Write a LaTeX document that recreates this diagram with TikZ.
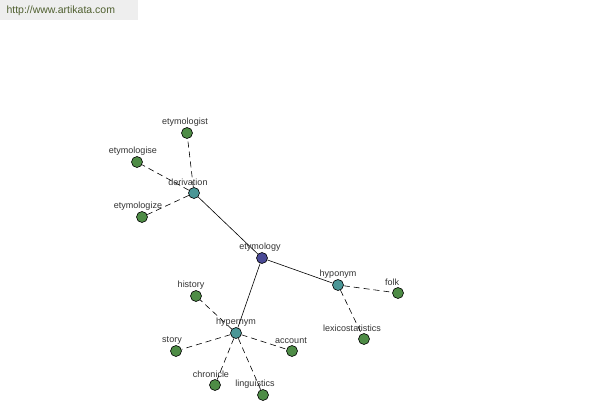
\documentclass[tikz,border=0pt]{standalone}
\usepackage{fontspec}
\setmainfont{Liberation Sans}
\usepackage{xcolor}
\definecolor{ink}{HTML}{333333}
\definecolor{leafgreen}{HTML}{4E8C46}
\definecolor{hubteal}{HTML}{4A9696}
\definecolor{rootblue}{HTML}{4A4A96}
\definecolor{banner}{HTML}{EEEEEE}
\definecolor{urltext}{HTML}{4F5F2F}
\usepackage{tikz}
\usetikzlibrary{positioning}
\tikzset{
  dot/.style={circle, draw=black, line width=0.6pt, minimum size=11pt, inner sep=0pt},
  leaf/.style={dot, fill=leafgreen},
  hub/.style={dot, fill=hubteal},
  root/.style={dot, fill=rootblue},
  lbl/.style={font=\fontsize{9}{10}\selectfont, text=ink, inner sep=1pt},
  link/.style={line width=0.6pt, color=black},
  weak/.style={link, dash pattern=on 6pt off 4pt},
}

\begin{document}
\begin{tikzpicture}[x=1pt, y=-1pt]
  \useasboundingbox (0,0) rectangle (600,400);
  \fill[white] (0,0) rectangle (600,400);

  % Site banner, top left.
  \fill[banner] (0,0) rectangle (138,20);
  \node[font=\fontsize{10.5}{12}\selectfont, text=urltext, anchor=west] (site) at (3,10.5) {http://www.artikata.com};

  % The word and its three relations.
  \node[root, label={[lbl, xshift=-2pt]above:etymology}] (etymology) at (262,258) {};
  \node[hub, label={[lbl, xshift=-6pt]above:derivation}] (derivation) at (194,193) {};
  \node[hub, label={[lbl]above:hyponym}] (hyponym) at (338,285) {};
  \node[hub, label={[lbl]above:hypernym}] (hypernym) at (236,333) {};

  % Words under each relation.
  \node[leaf, label={[lbl, xshift=-2pt]above:etymologist}] (etymologist) at (187,133) {};
  \node[leaf, label={[lbl, xshift=-4pt]above:etymologise}] (etymologise) at (137,162) {};
  \node[leaf, label={[lbl, xshift=-4pt]above:etymologize}] (etymologize) at (142,217) {};
  \node[leaf, label={[lbl, xshift=-6pt]above:folk}] (folk) at (398,293) {};
  \node[leaf, label={[lbl, xshift=-12pt]above:lexicostatistics}] (lexicostatistics) at (364,339) {};
  \node[leaf, label={[lbl, xshift=-5pt]above:history}] (history) at (196,296) {};
  \node[leaf, label={[lbl, xshift=-4pt]above:story}] (story) at (176,351) {};
  \node[leaf, label={[lbl, xshift=-1pt]above:account}] (account) at (292,351) {};
  \node[leaf, label={[lbl, xshift=-4pt]above:chronicle}] (chronicle) at (215,385) {};
  \node[leaf, label={[lbl, xshift=-8pt]above:linguistics}] (linguistics) at (263,395) {};

  % Connectors, from dot to dot.
  \draw[link] (etymology) -- (derivation);
  \draw[link] (etymology) -- (hyponym);
  \draw[link] (etymology) -- (hypernym);
  \foreach \w in {etymologist, etymologise, etymologize}
    \draw[weak] (derivation) -- (\w);
  \foreach \w in {folk, lexicostatistics}
    \draw[weak] (hyponym) -- (\w);
  \foreach \w in {history, story, account, chronicle, linguistics}
    \draw[weak] (hypernym) -- (\w);
\end{tikzpicture}
\end{document}
